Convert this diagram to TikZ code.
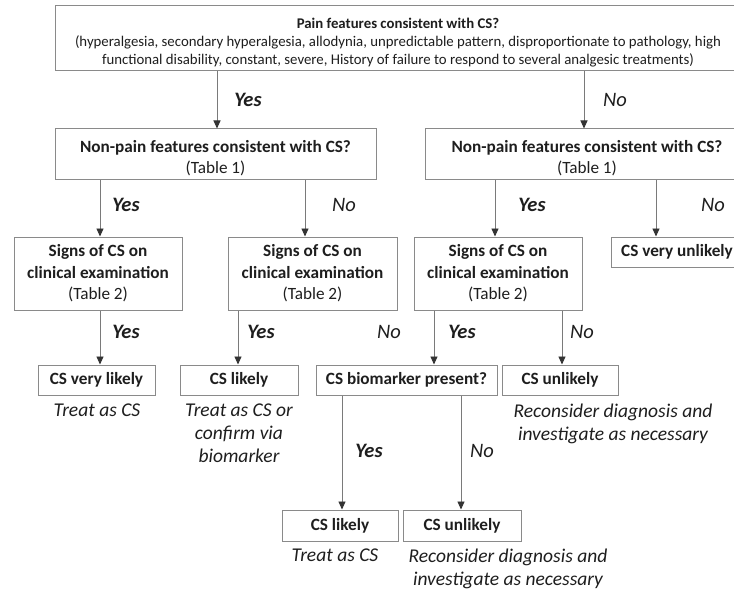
\documentclass[tikz,border=0pt]{standalone}
\usepackage{fontspec}
\setmainfont{Carlito}
\usetikzlibrary{arrows.meta}
\definecolor{linegray}{HTML}{7A7A7A}
\definecolor{boxgray}{HTML}{8A8A8A}
\definecolor{headgray}{HTML}{333333}
\definecolor{txt}{HTML}{1E1E1E}
\begin{document}
\begin{tikzpicture}[x=1pt,y=-1pt,
 box/.style={draw=boxgray, line width=1pt, fill=white, align=center, inner sep=0pt, text=txt, font=\fontsize{17.2}{21.5}\selectfont\bfseries},
 arr/.style={draw=linegray, line width=0.9pt, -{Triangle[length=8pt,width=7pt,fill=headgray,color=headgray]}},
 yes/.style={font=\fontsize{20.5}{24}\selectfont\bfseries\itshape, text=txt, inner sep=0pt},
 no/.style={font=\fontsize{20.5}{24}\selectfont\itshape, text=txt, inner sep=0pt},
 note/.style={font=\fontsize{19.5}{23}\selectfont\itshape, text=txt, align=center, inner sep=0pt, anchor=north}]
\useasboundingbox (0,0) rectangle (734,591);
\clip (0,0) rectangle (734,591);
\fill[white] (0,0) rectangle (734,591);

% boxes
\node[box, minimum width=686pt, minimum height=65pt, font=\fontsize{14.8}{18}\selectfont] (top) at (398,38.5)
  {\rule{0pt}{19pt}{\bfseries Pain features consistent with CS?}\\
   (hyperalgesia, secondary hyperalgesia, allodynia, unpredictable pattern, disproportionate to pathology, high\\
   functional disability, constant, severe, History of failure to respond to several analgesic treatments)};
\node[box, minimum width=321pt, minimum height=51pt] (np1) at (215.5,154.5)
  {\rule{0pt}{19pt}Non-pain features consistent with CS?\\{\mdseries (Table 1)}};
\node[box, minimum width=324pt, minimum height=51pt] (np2) at (587,154.5)
  {\rule{0pt}{19pt}Non-pain features consistent with CS?\\{\mdseries (Table 1)}};
\node[box, minimum width=168pt, minimum height=73pt] (s1) at (98,273.5)
  {Signs of CS on\\clinical examination\\{\mdseries (Table 2)}};
\node[box, minimum width=169pt, minimum height=73pt] (s2) at (312.5,273.5)
  {Signs of CS on\\clinical examination\\{\mdseries (Table 2)}};
\node[box, minimum width=168pt, minimum height=73pt] (s3) at (498,273.5)
  {Signs of CS on\\clinical examination\\{\mdseries (Table 2)}};
\node[box, minimum width=132pt, minimum height=30pt] (vu) at (677,252) {CS very unlikely};
\node[box, minimum width=117pt, minimum height=30pt] (vl) at (96.5,380) {CS very likely};
\node[box, minimum width=118pt, minimum height=30pt] (l1) at (239,380) {CS likely};
\node[box, minimum width=181pt, minimum height=30pt] (bio) at (406.5,380) {CS biomarker present?};
\node[box, minimum width=116pt, minimum height=30pt] (u1) at (560,380) {CS unlikely};
\node[box, minimum width=116pt, minimum height=31pt] (l2) at (340,525.5) {CS likely};
\node[box, minimum width=118pt, minimum height=31pt] (u2) at (462,525.5) {CS unlikely};

% notes
\node[note] (n1) at (97,404) {Treat as CS};
\node[note] (n2) at (239,404) {Treat as CS or\\confirm via\\biomarker};
\node[note] (n3) at (613,404) {Reconsider diagnosis and\\investigate as necessary};
\node[note] (n4) at (335,549) {Treat as CS};
\node[note] (n5) at (508,549) {Reconsider diagnosis and\\investigate as necessary};

% arrow x positions
\coordinate (xa) at (217,0);
\coordinate (xb) at (584,0);
\coordinate (xc) at (100,0);
\coordinate (xd) at (305,0);
\coordinate (xe) at (495,0);
\coordinate (xf) at (656,0);
\coordinate (xg) at (100,0);
\coordinate (xh) at (238,0);
\coordinate (xi) at (434,0);
\coordinate (xj) at (562,0);
\coordinate (xk) at (342,0);
\coordinate (xl) at (461,0);

\draw[arr] (top.south -| xa) -- (np1.north -| xa);
\draw[arr] (top.south -| xb) -- (np2.north -| xb);
\draw[arr] (np1.south -| xc) -- (s1.north -| xc);
\draw[arr] (np1.south -| xd) -- (s2.north -| xd);
\draw[arr] (np2.south -| xe) -- (s3.north -| xe);
\draw[arr] (np2.south -| xf) -- (vu.north -| xf);
\draw[arr] (s1.south -| xg) -- (vl.north -| xg);
\draw[arr] (s2.south -| xh) -- (l1.north -| xh);
\draw[arr] (s3.south -| xi) -- (bio.north -| xi);
\draw[arr] (s3.south -| xj) -- (u1.north -| xj);
\draw[arr] (bio.south -| xk) -- (l2.north -| xk);
\draw[arr] (bio.south -| xl) -- (u2.north -| xl);

% labels
\node[yes] (y1) at (248,100) {Yes};
\node[no]  (o1) at (615,100) {No};
\node[yes] (y2) at (126,205) {Yes};
\node[no]  (o2) at (344,205) {No};
\node[yes] (y3) at (532,205) {Yes};
\node[no]  (o3) at (713,205) {No};
\node[yes] (y4) at (126,332) {Yes};
\node[yes] (y5) at (261,332) {Yes};
\node[no]  (o5) at (389,332) {No};
\node[yes] (y6) at (462,332) {Yes};
\node[no]  (o6) at (582,332) {No};
\node[yes] (y7) at (369,451) {Yes};
\node[no]  (o7) at (482,451) {No};
\end{tikzpicture}
\end{document}
